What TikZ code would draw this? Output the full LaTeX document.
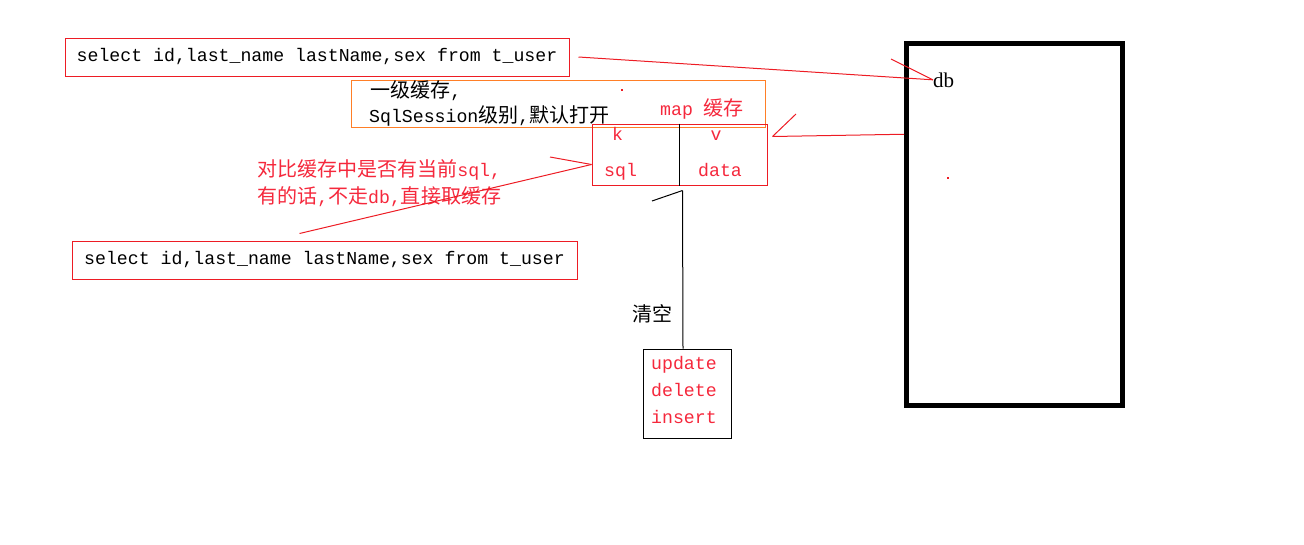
\documentclass[tikz,border=0pt]{standalone}
\usepackage{fontspec}
\setmainfont{Liberation Serif}
\setmonofont{Liberation Mono}
\newfontfamily\cjk{Noto Sans CJK SC}[Scale=1.1]
\newcommand\zh[1]{{\cjk #1}}
\definecolor{boxred}{RGB}{237,28,36}
\definecolor{txtred}{RGB}{245,40,60}
\definecolor{boxorange}{RGB}{255,127,39}

\begin{document}
\begin{tikzpicture}[x=1pt, y=-1pt,
  redbox/.style={draw=boxred, line width=1pt, inner sep=0},
  redline/.style={draw=boxred, line width=1pt},
  mono/.style={font=\ttfamily\fontsize{18.2}{27}\selectfont, inner sep=0}]
\useasboundingbox (0,0) rectangle (1304,544);

\node[redbox, mono, minimum width=504, minimum height=38] (q1) at (317,57) {select id,last\_name lastName,sex from t\_user};
\node[redbox, mono, minimum width=505, minimum height=38] (q2) at (324.5,260) {select id,last\_name lastName,sex from t\_user};

\node[draw=boxorange, line width=1pt, minimum width=414, minimum height=47] (l1) at (558,103.5) {};
\node[mono, anchor=base west] (l1a) at (370,97) {\zh{一级缓存},};
\node[mono, anchor=base west] (l1b) at (369,122) {SqlSession\zh{级别},\zh{默认打开}};

\node[mono, anchor=base west, text=txtred] (mapt) at (660,115) {map \zh{缓存}};
\node[redbox, minimum width=175, minimum height=61] (map) at (679.5,154.5) {};
\node[mono, anchor=base, text=txtred] (k) at (617.5,140) {k};
\node[mono, anchor=base, text=txtred] (v) at (716,140) {v};
\node[mono, anchor=base west, text=txtred] (sql) at (604,176) {sql};
\node[mono, anchor=base west, text=txtred] (data) at (698,176) {data};

\node[mono, anchor=base west, text=txtred, align=left] (cmt) at (257,203) {\zh{对比缓存中是否有当前}sql,\\\zh{有的话},\zh{不走}db,\zh{直接取缓存}};

\node[draw, line width=1pt, minimum width=88, minimum height=89] (up) at (687,393.5) {};
\node[mono, anchor=base west, text=txtred, align=left] (upt) at (651,423) {update\\delete\\insert};
\node[font=\cjk\fontsize{18.2}{20}\selectfont, anchor=base west, inner sep=0] (clr) at (632,321) {清空};

\node[draw, line width=5pt, minimum width=216, minimum height=361.5] (db) at (1014.5,224.25) {};
\node[font=\fontsize{21}{24}\selectfont, anchor=base west, inner sep=0] (dbt) at (933,87) {db};

\coordinate (m1) at ([shift={(5,-18)}]map.east);
\coordinate (s1) at ([shift={(0,10)}]map.west);
\coordinate (u1) at ([shift={(3,5)}]map.south);
\coordinate (t1) at (891,59);
\coordinate (t2) at (796,114);
\coordinate (t3) at (550,157);
\coordinate (t4) at (652,201);

\draw (map.north) -- (map.south);

\draw[redline] ([xshift=9]q1.east) -- (dbt.west);
\draw[redline] (t1) -- (dbt.west);

\draw[redline] (m1) -- ([yshift=90]db.west);
\draw[redline] (m1) -- (t2);

\draw[redline] ([shift={(-25,-7)}]q2.north) -- (s1);
\draw[redline] (t3) -- (s1);

\draw[line width=1pt] ([xshift=-4]up.north) -- (u1);
\draw[line width=1pt] (u1) -- (t4);

\fill[boxred] (621,89) rectangle (623,91);
\fill[boxred] (947,177) rectangle (949,179);
\end{tikzpicture}
\end{document}
